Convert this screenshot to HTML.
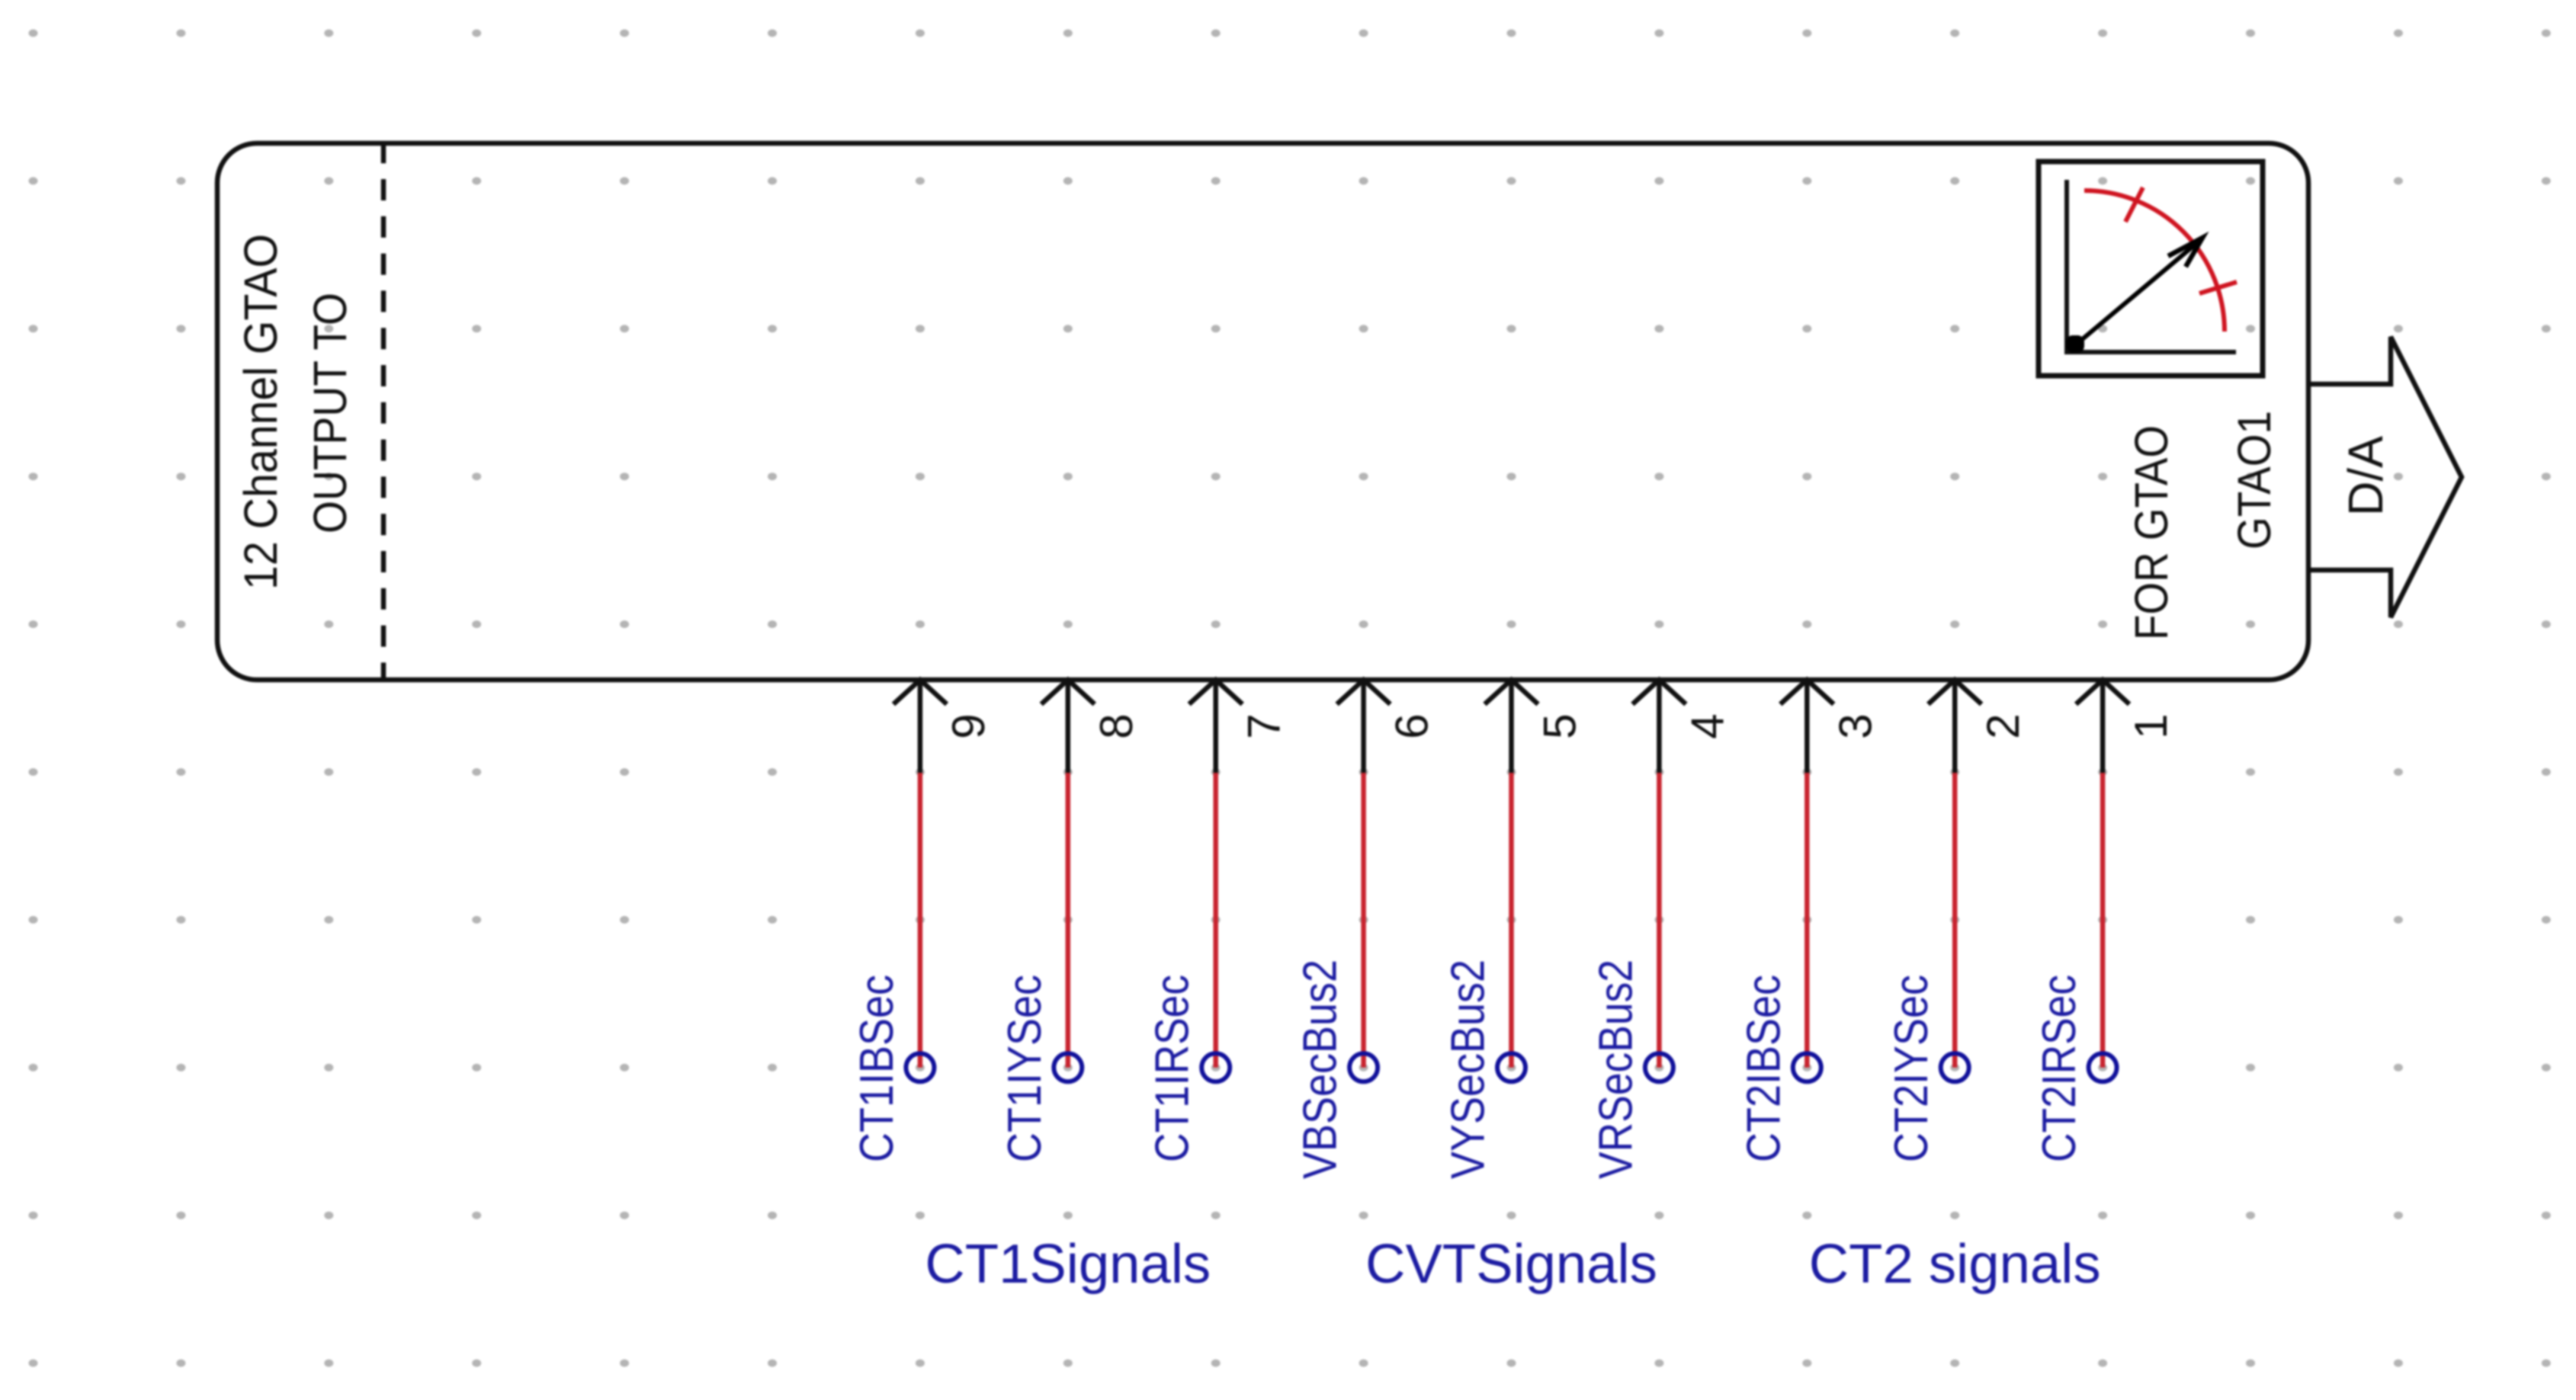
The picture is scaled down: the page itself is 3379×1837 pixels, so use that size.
<!DOCTYPE html>
<html lang="en">
<head>
<meta charset="utf-8">
<title>12 Channel GTAO output block</title>
<style>
html,body{margin:0;padding:0;background:#fff;width:3379px;height:1837px;overflow:hidden}
svg{display:block;filter:blur(1.2px)}
text{font-family:"Liberation Sans",Arial,sans-serif}
</style>
</head>
<body>
<svg id="diagram" xmlns="http://www.w3.org/2000/svg" width="3379" height="1837" viewBox="0 0 3379 1837">
  <rect width="3379" height="1837" fill="#fff"/>
  <g id="grid"></g>

  <g>
    <rect x="285" y="188" width="2743" height="704" rx="52" ry="52" fill="none" stroke="#111" stroke-width="6.5"/>
    <line x1="503" y1="188" x2="503" y2="892" stroke="#111" stroke-width="6.5" stroke-dasharray="28 20.8" stroke-dashoffset="1.8"/>
    <text transform="translate(363 774) rotate(-90)" font-size="61" fill="#111" textLength="467" lengthAdjust="spacingAndGlyphs">12 Channel GTAO</text>
    <text transform="translate(454 700) rotate(-90)" font-size="61" fill="#111" textLength="316" lengthAdjust="spacingAndGlyphs">OUTPUT TO</text>
    <text transform="translate(2843 840) rotate(-90)" font-size="61" fill="#111" textLength="282" lengthAdjust="spacingAndGlyphs">FOR GTAO</text>
    <text transform="translate(2978 721) rotate(-90)" font-size="61" fill="#111" textLength="182" lengthAdjust="spacingAndGlyphs">GTAO1</text>
  </g>

  <g>
    <rect x="2674" y="212" width="294" height="281" fill="none" stroke="#111" stroke-width="7"/>
    <path d="M2711 236V462H2933" fill="none" stroke="#111" stroke-width="6"/>
    <path d="M2734 250A184 185 0 0 1 2918 435" fill="none" stroke="#cf1420" stroke-width="6"/>
    <line x1="2811" y1="246" x2="2788" y2="291" stroke="#cf1420" stroke-width="6"/>
    <line x1="2934" y1="370" x2="2885" y2="385" stroke="#cf1420" stroke-width="6"/>
    <rect x="2710" y="440" width="24" height="23" rx="9" fill="#000"/>
    <line x1="2722" y1="453" x2="2884" y2="317" stroke="#000" stroke-width="6"/>
    <path d="M2844 336L2889 312L2867 350" fill="none" stroke="#000" stroke-width="6.5"/>
  </g>

  <g>
    <path d="M3028 504H3136V442L3229 626L3136 810V748H3028" fill="none" stroke="#111" stroke-width="6.5"/>
    <text transform="translate(3125 677) rotate(-90)" font-size="64" fill="#111" textLength="105" lengthAdjust="spacingAndGlyphs">D/A</text>
  </g>

  <g id="pins"></g>
  <g id="groups"></g>
</svg>
<script>
const pinNumbers = ["9", "8", "7", "6", "5", "4", "3", "2", "1"];
const pinSignals = ["CT1IBSec", "CT1IYSec", "CT1IRSec", "VBSecBus2", "VYSecBus2", "VRSecBus2", "CT2IBSec", "CT2IYSec", "CT2IRSec"];
const groupLabels = ["CT1Signals", "CVTSignals", "CT2 signals"];

const NS = "http://www.w3.org/2000/svg";
const STEP = 193.9;
const ORIGIN = 43.5;
function gridPos(k) { return ORIGIN + STEP * k; }

function make(tag, attrs, parent, content) {
  const el = document.createElementNS(NS, tag);
  for (const key in attrs) { el.setAttribute(key, attrs[key]); }
  if (content !== undefined) { el.textContent = content; }
  parent.appendChild(el);
  return el;
}

const gridLayer = document.getElementById("grid");
for (let row = 0; row < 10; row++) {
  for (let col = 0; col < 18; col++) {
    const dot = make("ellipse", { cx: gridPos(col), cy: gridPos(row), rx: 6, ry: 5, fill: "#b4b4b4" }, gridLayer);
    
    
  }
}

const pinLayer = document.getElementById("pins");
const BLOCK_BOTTOM = 892;
const WIRE_START = 1014;
const TERMINAL_Y = gridPos(7);
pinNumbers.forEach(function (num, i) {
  const x = gridPos(6 + i);
  const signal = pinSignals[i];
  const isBus = signal.indexOf("Bus") >= 0;

  const pin = make("g", {}, pinLayer);
  
  

  const stem = make("line", { x1: x, y1: BLOCK_BOTTOM, x2: x, y2: WIRE_START, stroke: "#111", "stroke-width": 6.5 }, pin);
  
  

  const head = make("path", { d: "M" + (x - 35) + " " + (BLOCK_BOTTOM + 32) + "L" + x + " " + BLOCK_BOTTOM + "L" + (x + 35) + " " + (BLOCK_BOTTOM + 32), fill: "none", stroke: "#111", "stroke-width": 6.5 }, pin);
  
  

  const wire = make("line", { x1: x, y1: WIRE_START, x2: x, y2: TERMINAL_Y, stroke: "#c8242f", "stroke-width": 6.5 }, pin);
  
  

  const ring = make("circle", { cx: x, cy: TERMINAL_Y, r: 18.5, fill: "none", stroke: "#10109a", "stroke-width": 6 }, pin);
  
  

  const numLabel = make("text", { transform: "translate(" + (x + 84) + " 953) rotate(-90)", "font-size": 60, fill: "#111", "text-anchor": "middle" }, pin, num);
  
  

  const bottom = isBus ? 1547 : 1525;
  const sigLabel = make("text", { transform: "translate(" + (x - 36) + " " + bottom + ") rotate(-90)", "font-size": 62, fill: "#1c1ca2", textLength: isBus ? 288 : 246, lengthAdjust: "spacingAndGlyphs" }, pin, signal);
  
  
});

const groupLayer = document.getElementById("groups");
groupLabels.forEach(function (label, i) {
  const groupText = make("text", { x: gridPos(7 + i * 3), y: 1683, "font-size": 72.5, fill: "#1c1ca2", "text-anchor": "middle" }, groupLayer, label);
  
  
});
</script>
</body>
</html>
